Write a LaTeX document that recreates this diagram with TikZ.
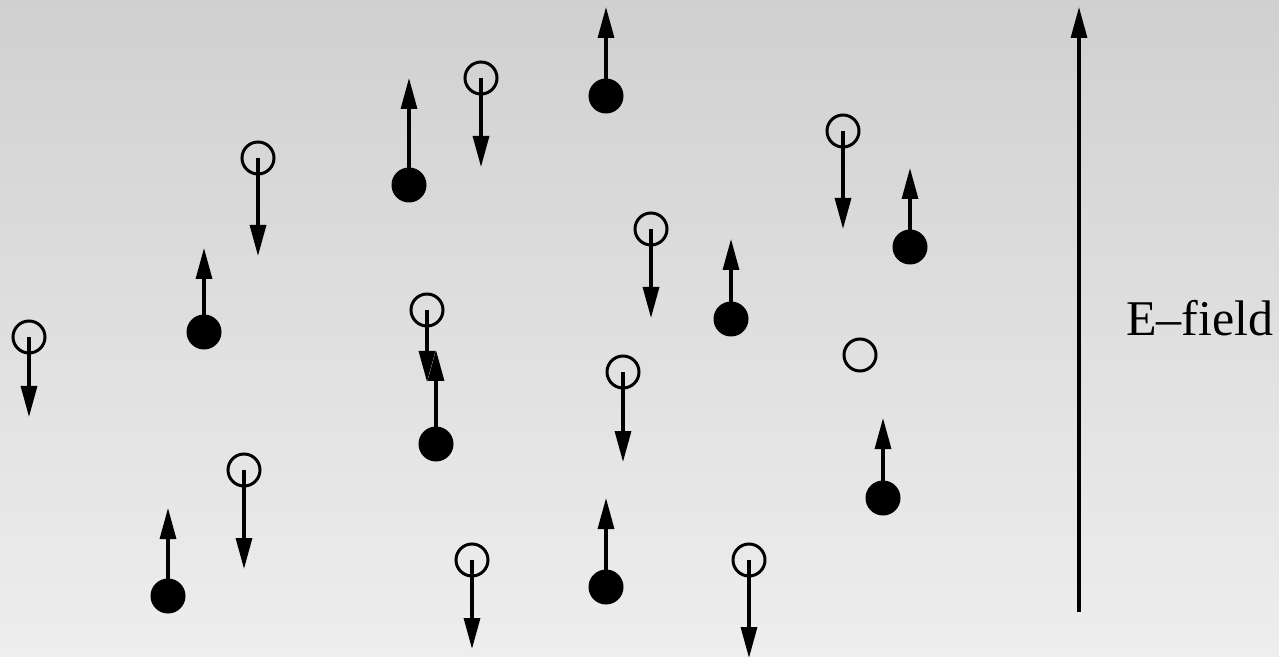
\documentclass[tikz,border=0pt]{standalone}
\usepackage{fontspec}
\setmainfont{Liberation Serif}
\usetikzlibrary{arrows.meta}
\definecolor{bgtop}{RGB}{208,208,208}
\definecolor{bgbot}{RGB}{238,238,238}
\begin{document}
\begin{tikzpicture}[x=0.5pt,y=-0.5pt,
  full/.style={circle,fill=black,minimum size=17.5pt,inner sep=0pt},
  hollow/.style={circle,draw=black,line width=1.5pt,minimum size=16pt,inner sep=0pt},
  fieldarrow/.style={line width=1.6pt,-{Triangle[length=15.5pt,width=8pt]}}]
\useasboundingbox (0,0) rectangle (1279,657);
\shade[top color=bgtop,bottom color=bgbot] (0,0) rectangle (1279,657);
% filled circles with upward arrows
\foreach \n/\x/\y/\t in {f1/606/96/7, f2/409/185/78, f3/910/247/168, f4/204/332/248,
  f5/731/319/239, f6/436/444/350, f7/883/498/418, f8/606/587/498, f9/168/596/508}{
  \node[full] (\n) at (\x,\y) {};
  \coordinate (\n tip) at (\x,\t);
  \draw[fieldarrow] (\n.center) -- (\n tip);
}
% open circles with downward arrows
\foreach \n/\x/\y/\t in {o1/481/78/167, o2/258/158/256, o3/843/131/229, o4/651/229/318,
  o5/29/337/417, o6/427/310/382, o7/623/372/462, o9/244/470/569,
  o10/472/560/649, o11/749/560/658}{
  \node[hollow] (\n) at (\x,\y) {};
  \coordinate (\n tip) at (\x,\t);
  \draw[fieldarrow] (\n.center) -- (\n tip);
}
\node[hollow] (o8) at (860,355) {};
% E-field arrow and label
\coordinate (ebase) at (1079,612);
\coordinate (etip) at (1079,7);
\draw[fieldarrow] (ebase) -- (etip);
\node[anchor=base,inner sep=0pt,font=\fontsize{25}{29}\selectfont] (elabel) at (1200,336) {E--field};
\end{tikzpicture}
\end{document}
